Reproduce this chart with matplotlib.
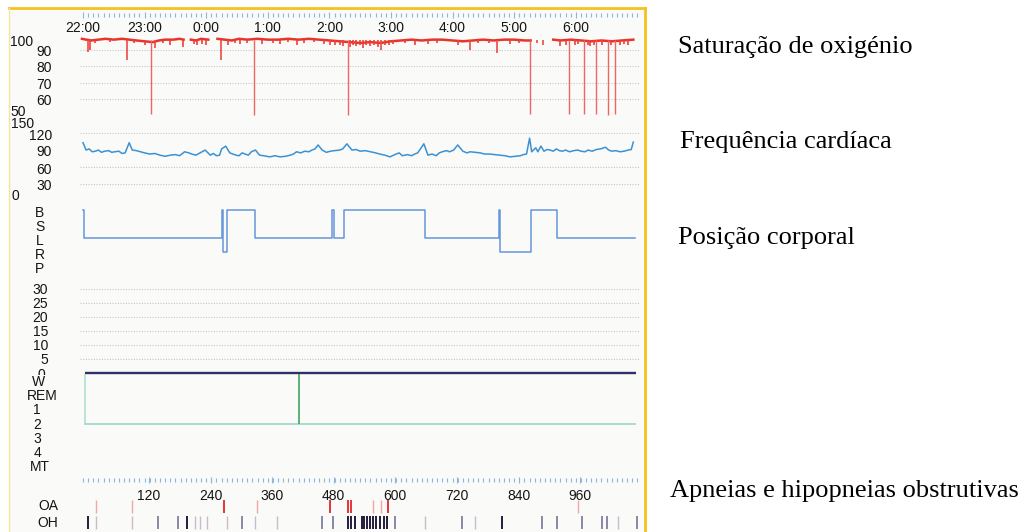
import numpy as np
import matplotlib
matplotlib.use("Agg")
import matplotlib.pyplot as plt
from matplotlib.ticker import FixedLocator, MultipleLocator, FixedFormatter
from matplotlib.transforms import blended_transform_factory, ScaledTranslation
from matplotlib.lines import Line2D
from matplotlib.patches import Rectangle

plt.rcParams['font.family'] = 'Liberation Sans'

W, H = 1028, 532
PX_PER_HOUR = 61.6
TXT = '#141414'
FS = 10

# ---------------- data ----------------
hour_labels = ["22:00", "23:00", "0:00", "1:00", "2:00", "3:00", "4:00", "5:00", "6:00"]
epoch_ticks = [120, 240, 360, 480, 600, 720, 840, 960]

# SpO2 baseline (None = signal lost)
spo2_times = ["21:59", "22:03", "22:08", "22:15", "22:22", "22:30", "22:38", "22:45", "22:52",
              "23:00", "23:08", "23:14", "23:20", "23:28", "23:34", "23:38", None,
              "23:45", "23:50", "23:55", "00:02", None,
              "00:11", "00:18", "00:25", "00:32", "00:40", "00:50", "01:00", "01:10", "01:20",
              "01:30", "01:40", "01:50", "02:00", "02:10", "02:20", "02:30", "02:40", "02:50",
              "03:00", "03:10", "03:20", "03:30", "03:40", "03:50", "04:00", "04:10", "04:20",
              "04:30", "04:40", "04:50", "05:00", "05:10", "05:16", None,
              "05:38", "05:45", "05:55", "06:05", "06:15", "06:25", "06:35", "06:45", "06:56"]
spo2_values = [96.5, 96, 95.5, 96, 96.5, 96, 96.5, 96, 95.5,
               95, 94.5, 95.5, 96, 96, 96.5, 96, None,
               96, 95.5, 96.5, 96, None,
               96.5, 96, 95.5, 96.5, 96, 96.5, 96, 96, 96.5,
               96, 96.5, 96, 95.5, 95, 94.5, 94, 94.5, 94,
               95, 95.5, 96, 95.5, 96, 96, 95.5, 95, 95.5,
               96, 95.5, 96, 96, 95.5, 95.5, None,
               96, 95.5, 96, 95.5, 95, 95.5, 95, 95.5, 96]

# desaturation events: time and lowest value
deep_dip_times = ["23:06", "00:47", "02:18", "05:15", "05:53", "06:08", "06:20", "06:31", "06:38"]
deep_dip_values = [51, 50.5, 50.5, 51, 51, 51.5, 51, 50.5, 51]
mid_dip_times = ["22:05", "22:43", "23:10", "00:14", "02:50", "04:17", "04:43", "05:22", "05:28"]
mid_dip_values = [88.5, 84, 91, 84, 89.5, 90, 88, 94, 93]
small_dip_times = ["22:07", "22:12", "22:26", "22:50", "23:00", "23:18", "23:25", "23:37", "23:48",
                   "23:51", "23:56", "00:00", "00:21", "00:28", "00:33", "00:40", "00:54", "01:05",
                   "01:12", "01:20", "01:28", "01:35", "01:45", "01:55", "02:01", "02:05", "02:10",
                   "02:13", "02:20", "02:23", "02:26", "02:30", "02:33", "02:36", "02:40", "02:43",
                   "02:47", "02:54", "02:58", "03:02", "03:14", "03:23", "03:36", "03:45", "04:05",
                   "04:25", "04:35", "04:56", "05:05", "05:45", "05:50", "05:59", "06:02", "06:12",
                   "06:14", "06:18", "06:26", "06:34", "06:43", "06:47", "06:51"]
small_dip_values = [90, 94, 94.5, 94, 93, 94, 93, 91.5, 93.5,
                    93, 93.5, 93, 93, 94, 93.5, 94, 93.5, 94,
                    93.5, 94.5, 93, 94, 94.5, 93.5, 93, 92.5, 93,
                    92, 91.5, 92.5, 92, 93, 91, 92.5, 92, 93,
                    91.5, 92.5, 93, 93.5, 94, 93, 93.5, 94, 92.5,
                    94, 94, 93.5, 94, 92, 93, 92.5, 93.5, 93,
                    92, 93, 93, 92.5, 93, 93.5, 93]

# heart rate
hr_times = ["22:00", "22:03", "22:06", "22:09", "22:12", "22:15", "22:18", "22:21", "22:25", "22:28",
            "22:31", "22:35", "22:38", "22:41", "22:45", "22:48", "22:52", "22:56", "23:00", "23:05",
            "23:10", "23:15", "23:20", "23:25", "23:30", "23:34", "23:39", "23:43", "23:46", "23:50",
            "23:54", "23:59", "00:04", "00:07", "00:10", "00:13", "00:15", "00:19", "00:23", "00:26",
            "00:29", "00:32", "00:35", "00:38", "00:41", "00:44", "00:48", "00:52", "00:56", "01:02",
            "01:07", "01:12", "01:17", "01:22", "01:25", "01:28", "01:32", "01:36", "01:40", "01:43",
            "01:46", "01:49", "01:53", "01:57", "02:01", "02:05", "02:10", "02:13", "02:17", "02:22",
            "02:26", "02:30", "02:35", "02:40", "02:45", "02:49", "02:54", "02:59", "03:05", "03:08",
            "03:11", "03:16", "03:20", "03:23", "03:26", "03:32", "03:36", "03:40", "03:44", "03:47",
            "03:50", "03:54", "03:57", "04:01", "04:05", "04:10", "04:14", "04:17", "04:22", "04:27",
            "04:31", "04:36", "04:41", "04:46", "04:51", "04:56", "05:01", "05:06", "05:09", "05:12",
            "05:15", "05:17", "05:21", "05:23", "05:26", "05:29", "05:32", "05:35", "05:38", "05:41",
            "05:44", "05:47", "05:50", "05:54", "05:58", "06:02", "06:05", "06:09", "06:12", "06:16",
            "06:20", "06:24", "06:29", "06:32", "06:35", "06:39", "06:43", "06:47", "06:51", "06:54",
            "06:56"]
hr_values = [102, 89, 91, 86, 87, 89, 85, 87, 88, 85,
             86, 87, 83, 84, 102, 89, 88, 86, 84, 82,
             83, 80, 78, 80, 81, 79, 86, 84, 82, 80,
             84, 89, 80, 83, 79, 80, 91, 96, 84, 82,
             80, 79, 84, 82, 80, 86, 89, 80, 79, 77,
             79, 77, 78, 80, 82, 86, 84, 87, 86, 89,
             91, 98, 89, 85, 87, 88, 89, 91, 100, 89,
             90, 87, 88, 86, 84, 82, 80, 77, 82, 84,
             79, 81, 79, 82, 84, 100, 80, 82, 79, 84,
             86, 88, 86, 89, 98, 87, 84, 86, 85, 84,
             82, 82, 81, 80, 79, 77, 78, 79, 81, 82,
             110, 86, 93, 86, 96, 87, 90, 89, 87, 91,
             88, 87, 89, 86, 88, 89, 87, 86, 89, 87,
             90, 91, 94, 89, 87, 88, 86, 87, 89, 90,
             103]

# body position
pos_labels = ["B", "S", "L", "R", "P"]
pos_times = ["22:00", "22:01", "00:15", "00:16", "00:20", "00:48", "02:03", "02:04", "02:14",
             "03:33", "04:45", "04:46", "05:16", "05:42", "06:58"]
pos_values = ["B", "L", "B", "R", "B", "L", "B", "L", "B",
              "L", "B", "R", "B", "L", "L"]

# hypnogram
stage_labels = ["W", "REM", "1", "2", "3", "4", "MT"]
stage_times = ["22:02", "06:58"]
stage_values = ["2", "2"]
wake_times = ["22:02", "01:30"]
baseline_start, baseline_end = "22:02", "06:59"

# obstructive apnoeas / hypopnoeas, in 30 s epochs
oa_epochs = [266, 473, 508, 514, 586]
oa_faint_epochs = [17, 87, 331, 557, 572, 956]
oh_epochs = [1, 194, 508, 514, 521, 535, 539, 545, 551, 557, 562, 570, 578, 584, 808]
oh_mid_epochs = [138, 177, 301, 457, 479, 599, 730, 886, 915, 964, 1003, 1012, 1071]
oh_faint_epochs = [17, 87, 210, 220, 233, 272, 327, 370, 658, 755, 1034]
EPOCH_OFFSET_H = 0.07


def clock(s):
    if s is None:
        return np.nan
    h, m = map(int, s.split(":"))
    v = h * 60 + m - 22 * 60
    if v < -60:
        v += 1440
    return v / 60.0


def hrs(lst):
    return np.array([clock(s) for s in lst], dtype=float)


def ep(lst):
    return np.array(lst) / 120.0 + EPOCH_OFFSET_H


# ---------------- figure ----------------
fig = plt.figure(figsize=(W / 100, H / 100), dpi=100)
fig.patch.set_facecolor('white')

# scanned sheet + yellow frame
fig.patches.append(Rectangle((10 / W, 0), 635 / W, 1 - 8 / H, transform=fig.transFigure,
                             facecolor='#fafaf8', edgecolor='none', zorder=-5))
fig.lines.append(Line2D([9 / W, 645 / W], [1 - 8 / H, 1 - 8 / H], transform=fig.transFigure,
                        color='#f5c11e', lw=2))
fig.lines.append(Line2D([645 / W, 645 / W], [1 - 8 / H, 0], transform=fig.transFigure,
                        color='#f5c11e', lw=2))
fig.lines.append(Line2D([9 / W, 9 / W], [1 - 8 / H, 0], transform=fig.transFigure,
                        color='#f7e2a2', lw=1))


def px_axes(top, bottom):
    ax = fig.add_axes([80 / W, 1 - bottom / H, 560 / W, (bottom - top) / H])
    ax.set_xlim(-3 / PX_PER_HOUR, 557 / PX_PER_HOUR)
    ax.set_axis_off()
    ax.patch.set_alpha(0)
    return ax


def left_label(ax, text, value, xpx, ha='right', dy=2, size=FS):
    tr = blended_transform_factory(fig.transFigure, ax.transData) + \
        ScaledTranslation(0, -dy / 100, fig.dpi_scale_trans)
    return ax.text(xpx / W, value, text, transform=tr, ha=ha, va='center',
                   fontsize=size, color=TXT, clip_on=False)


def grid(ax, values):
    for v in values:
        ax.axhline(v, color='#cbc2c8', lw=0.8, ls=(0, (1, 1.4)), zorder=0)


def ruler_axes(ypx, ticks, labels, pad):
    r = fig.add_axes([80 / W, 1 - (ypx + 0.5) / H, 560 / W, 1 / H])
    r.set_xlim(-3 / PX_PER_HOUR, 557 / PX_PER_HOUR)
    r.patch.set_alpha(0)
    for s in r.spines.values():
        s.set_visible(False)
    r.set_yticks([])
    r.xaxis.set_major_locator(FixedLocator(ticks))
    r.xaxis.set_major_formatter(FixedFormatter(labels))
    r.xaxis.set_minor_locator(MultipleLocator(1 / 12))
    r.tick_params(axis='x', which='both', direction='inout', color='#8ab6df', width=0.8)
    r.tick_params(axis='x', which='major', length=5, pad=pad, labelsize=FS, labelcolor=TXT)
    r.tick_params(axis='x', which='minor', length=3)
    return r


# top time ruler with clock labels
ruler_axes(14, list(range(len(hour_labels))), hour_labels, 2.5)

# SpO2
ax1 = px_axes(33, 116)
ax1.set_ylim(50, 100)
grid(ax1, [50, 60, 70, 80, 90])
vals = np.array([np.nan if v is None else v for v in spo2_values], dtype=float)
ax1.plot(hrs(spo2_times), vals, color='#e9342c', lw=1.8, clip_on=False)
ax1.vlines(hrs(small_dip_times), small_dip_values, 95.8, color='#ec4038', lw=1.2, clip_on=False)
ax1.vlines(hrs(mid_dip_times), mid_dip_values, 95.8, color='#ec4a42', lw=1.2, clip_on=False)
ax1.vlines(hrs(deep_dip_times), deep_dip_values, 95.8, color='#f06464', lw=1.0, clip_on=False)
for v in [90, 80, 70, 60]:
    left_label(ax1, str(v), v, 52)
left_label(ax1, "100", 100, 10, ha='left', dy=9)
left_label(ax1, "50", 50, 10, ha='left', dy=-4)

# heart rate
ax2 = px_axes(115.5, 200.5)
ax2.set_ylim(0, 150)
grid(ax2, [0, 30, 60, 120])
ax2.plot(hrs(hr_times), hr_values, color='#3a92d4', lw=1.1, clip_on=False)
for v in [120, 90, 60, 30]:
    left_label(ax2, str(v), v, 52, dy=3)
left_label(ax2, "150", 150, 11, ha='left', dy=9)
left_label(ax2, "0", 0, 12, ha='left', dy=-4.5)

# body position
ax3 = px_axes(203, 273)
ax3.set_ylim(4.5, -0.5)
pos_idx = [pos_labels.index(p) for p in pos_values]
ax3.step(hrs(pos_times), pos_idx, where='post', color='#6496da', lw=1.1, clip_on=False)
for i, lab in enumerate(pos_labels):
    left_label(ax3, lab, i, 40, ha='center', dy=3)

# unlabelled 0-30 panel
ax4 = px_axes(289, 373)
ax4.set_ylim(0, 30)
grid(ax4, [5, 10, 15, 20, 25, 30])
ax4.hlines(0, clock(baseline_start), clock(baseline_end), color='#2f2f6c', lw=1.7, clip_on=False)
for v in [30, 25, 20, 15, 10, 5]:
    left_label(ax4, str(v), v, 48, dy=1)
left_label(ax4, "0", 0, 41, ha='center', dy=2)

# hypnogram
ax5 = px_axes(374, 474)
ax5.set_ylim(6.5, -0.528)
st_idx = [stage_labels.index(s) for s in stage_values]
ax5.plot(hrs(stage_times), st_idx, color='#95d3c6', lw=1.1)
wt = hrs(wake_times)
ax5.vlines(wt[:1], stage_labels.index("2"), -0.528, color='#a9dcd2', lw=1.1)
ax5.vlines(wt[1:], stage_labels.index("2"), -0.528, color='#4dae6c', lw=1.3)
hyp_x = {"W": 39, "REM": 42, "MT": 40}
for i, lab in enumerate(stage_labels):
    t = left_label(ax5, lab, i, hyp_x.get(lab, 37), ha='center', dy=0.5)
    if lab == "W":
        t.set_bbox(dict(facecolor='#fafaf8', edgecolor='none', pad=0))

# bottom epoch ruler
ruler_axes(479, ep(epoch_ticks), [str(e) for e in epoch_ticks], 4)

# respiratory events
ax6 = px_axes(498, 531)
ax6.set_ylim(1.5, -0.5)
ax6.vlines(ep(oa_faint_epochs), -0.4, 0.4, color='#f3a6a6', lw=1)
ax6.vlines(ep(oa_epochs), -0.4, 0.4, color='#e2262a', lw=1.3)
ax6.vlines(ep(oh_faint_epochs), 0.6, 1.4, color='#c5bccc', lw=1)
ax6.vlines(ep(oh_mid_epochs), 0.6, 1.4, color='#6c6890', lw=1.1)
ax6.vlines(ep(oh_epochs), 0.6, 1.4, color='#231c3c', lw=1.4)
left_label(ax6, "OA", 0, 48, ha='center', dy=0)
left_label(ax6, "OH", 1, 48, ha='center', dy=0)

# captions on the right
serif = dict(family='Liberation Serif', fontsize=19, color='black', va='center', ha='left')
fig.text(678 / W, 1 - 47 / H, "Saturação de oxigénio", **serif)
fig.text(680 / W, 1 - 142 / H, "Frequência cardíaca", **serif)
fig.text(678 / W, 1 - 238 / H, "Posição corporal", **serif)
fig.text(670 / W, 1 - 491 / H, "Apneias e hipopneias obstrutivas", **serif)

fig.savefig("out.png", dpi=100, facecolor=fig.get_facecolor())
